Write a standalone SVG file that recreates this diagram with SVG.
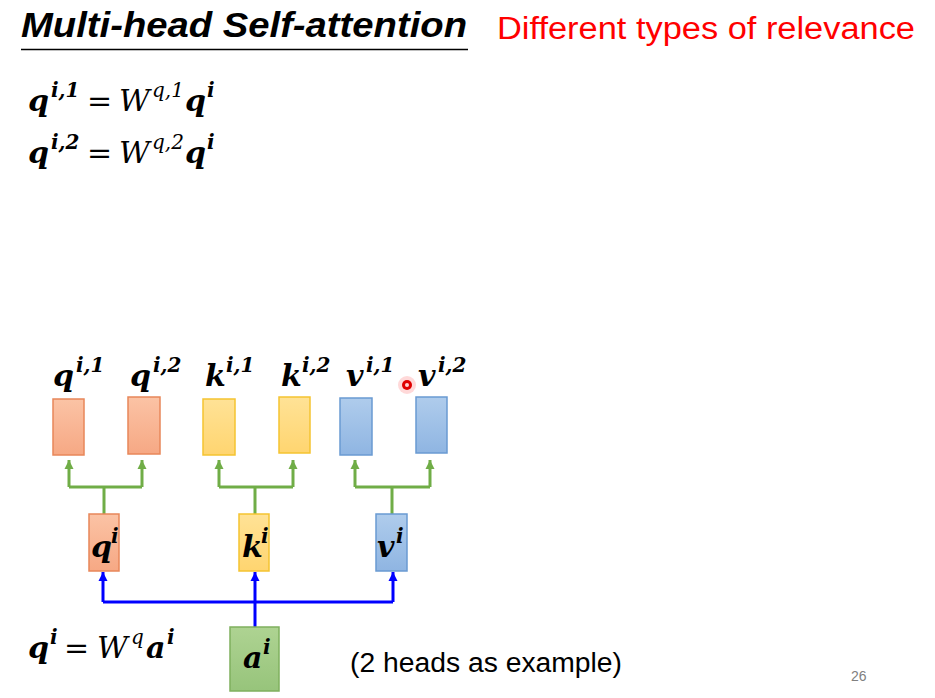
<svg xmlns="http://www.w3.org/2000/svg" width="935" height="698" viewBox="0 0 935 698">
<style>
.title{font-family:"Liberation Sans",Arial,sans-serif;font-weight:bold;font-style:italic;font-size:35px;fill:#000}
.red{font-family:"Liberation Sans",Arial,sans-serif;font-size:31px;fill:#ff0000}
.m{font-family:"DejaVu Serif","Liberation Serif",serif;font-weight:bold;font-style:italic;font-size:30px;fill:#000}
.mi{font-family:"DejaVu Serif","Liberation Serif",serif;font-style:italic;font-size:30px;fill:#000}
.eq{font-family:"DejaVu Serif","Liberation Serif",serif;font-size:30px;fill:#000}
.sup{font-size:20px}
.note{font-family:"Liberation Sans",Arial,sans-serif;font-size:27px;fill:#000}
.pg{font-family:"Liberation Sans",Arial,sans-serif;font-size:14px;fill:#808080}
.org{fill:url(#gO);stroke:#E8875A;stroke-width:1.5}
.yel{fill:url(#gY);stroke:#F5C330;stroke-width:1.5}
.blu{fill:url(#gB);stroke:#6A9AD2;stroke-width:1.5}
.grn{fill:url(#gG);stroke:#7FB05E;stroke-width:1.5}
.gl{fill:none;stroke:#70AD47;stroke-width:3}
.bl{fill:none;stroke:#0000FF;stroke-width:3}
</style>
<defs>
<linearGradient id="gO" x1="0" y1="0" x2="0" y2="1"><stop offset="0" stop-color="#FBC3A5"/><stop offset="1" stop-color="#F6A884"/></linearGradient>
<linearGradient id="gY" x1="0" y1="0" x2="0" y2="1"><stop offset="0" stop-color="#FFE296"/><stop offset="1" stop-color="#FFD570"/></linearGradient>
<linearGradient id="gB" x1="0" y1="0" x2="0" y2="1"><stop offset="0" stop-color="#AFCCEC"/><stop offset="1" stop-color="#8FB5E2"/></linearGradient>
<linearGradient id="gG" x1="0" y1="0" x2="0" y2="1"><stop offset="0" stop-color="#AED392"/><stop offset="1" stop-color="#97C47B"/></linearGradient>
<marker id="ag" markerUnits="userSpaceOnUse" markerWidth="10" markerHeight="10" refX="9" refY="5" orient="auto"><path d="M0,0.5 L9,5 L0,9.5 z" fill="#70AD47"/></marker>
<marker id="ab" markerUnits="userSpaceOnUse" markerWidth="10" markerHeight="10" refX="9" refY="5" orient="auto"><path d="M0,0.5 L9,5 L0,9.5 z" fill="#0000FF"/></marker>
</defs>
<rect width="935" height="698" fill="#fff"/>

<g id="title">
<text class="title" x="21" y="37" textLength="446" lengthAdjust="spacingAndGlyphs">Multi-head Self-attention</text>
<line x1="21" y1="49.5" x2="468" y2="49.5" stroke="#000" stroke-width="1.5"/>
</g>
<text class="red" x="497" y="39" textLength="418" lengthAdjust="spacingAndGlyphs">Different types of relevance</text>

<g id="eq1">
<text class="m" x="28" y="111">q</text><text class="m sup" x="51" y="97">i,1</text>
<text class="eq" x="87" y="111">=</text>
<text class="mi" x="119" y="111">W</text><text class="mi sup" x="152" y="97">q,1</text>
<text class="m" x="185" y="111">q</text><text class="m sup" x="207" y="97">i</text>
</g>
<g id="eq2">
<text class="m" x="28" y="163">q</text><text class="m sup" x="51" y="149">i,2</text>
<text class="eq" x="87" y="163">=</text>
<text class="mi" x="119" y="163">W</text><text class="mi sup" x="152" y="149">q,2</text>
<text class="m" x="185" y="163">q</text><text class="m sup" x="207" y="149">i</text>
</g>
<g id="eq3">
<text class="m" x="28" y="658">q</text><text class="m sup" x="50" y="644">i</text>
<text class="eq" x="64" y="658">=</text>
<text class="mi" x="97" y="658">W</text><text class="mi sup" x="131" y="644">q</text>
<text class="m" x="146" y="658">a</text><text class="m sup" x="167" y="644">i</text>
</g>

<g id="connectors">
<path class="gl" d="M69,487 H142 M104,514 V487"/>
<path class="gl" d="M69,487 V460" marker-end="url(#ag)"/>
<path class="gl" d="M142,487 V460" marker-end="url(#ag)"/>
<path class="gl" d="M219,487 H293 M255,514 V487"/>
<path class="gl" d="M219,487 V460" marker-end="url(#ag)"/>
<path class="gl" d="M293,487 V460" marker-end="url(#ag)"/>
<path class="gl" d="M355,487 H430 M392,514 V487"/>
<path class="gl" d="M355,487 V460" marker-end="url(#ag)"/>
<path class="gl" d="M430,487 V460" marker-end="url(#ag)"/>
<path class="bl" d="M103,602 H393"/>
<path class="bl" d="M103,602 V572" marker-end="url(#ab)"/>
<path class="bl" d="M255,627 V572" marker-end="url(#ab)"/>
<path class="bl" d="M393,602 V572" marker-end="url(#ab)"/>
</g>

<g id="q_i1"><rect class="org" x="53" y="399" width="31" height="56"/><text class="m" x="53" y="386">q</text><text class="m sup" x="76" y="372">i,1</text></g>
<g id="q_i2"><rect class="org" x="128" y="397" width="32" height="57"/><text class="m" x="130" y="386">q</text><text class="m sup" x="153" y="372">i,2</text></g>
<g id="k_i1"><rect class="yel" x="203" y="399" width="32" height="56"/><text class="m" x="205" y="386">k</text><text class="m sup" x="226" y="372">i,1</text></g>
<g id="k_i2"><rect class="yel" x="279" y="397" width="31" height="56"/><text class="m" x="281" y="386">k</text><text class="m sup" x="302" y="372">i,2</text></g>
<g id="v_i1"><rect class="blu" x="340" y="398" width="32" height="57"/><text class="m" x="346" y="386">v</text><text class="m sup" x="366" y="372">i,1</text></g>
<g id="v_i2"><rect class="blu" x="416" y="397" width="31" height="56"/><text class="m" x="418" y="386">v</text><text class="m sup" x="438" y="372">i,2</text></g>

<g id="q_i"><rect class="org" x="89" y="514" width="30" height="57"/><text class="m" x="91" y="557">q</text><text class="m sup" x="111" y="543">i</text></g>
<g id="k_i"><rect class="yel" x="239" y="514" width="30" height="57"/><text class="m" x="242" y="557">k</text><text class="m sup" x="261" y="543">i</text></g>
<g id="v_i"><rect class="blu" x="376" y="514" width="31" height="57"/><text class="m" x="377" y="557">v</text><text class="m sup" x="396" y="543">i</text></g>
<g id="a_i"><rect class="grn" x="230" y="627" width="49" height="64"/><text class="m" x="243" y="668">a</text><text class="m sup" x="263" y="654">i</text></g>

<text class="note" x="350" y="672" textLength="272" lengthAdjust="spacingAndGlyphs">(2 heads as example)</text>
<text class="pg" x="851" y="681">26</text>

<g id="pointer">
<circle cx="407" cy="385" r="9" fill="#ff4040" opacity="0.2"/>
<circle cx="407" cy="385" r="5" fill="#e00000"/>
<circle cx="407" cy="385" r="2" fill="#ffd0d0"/>
</g>
</svg>
